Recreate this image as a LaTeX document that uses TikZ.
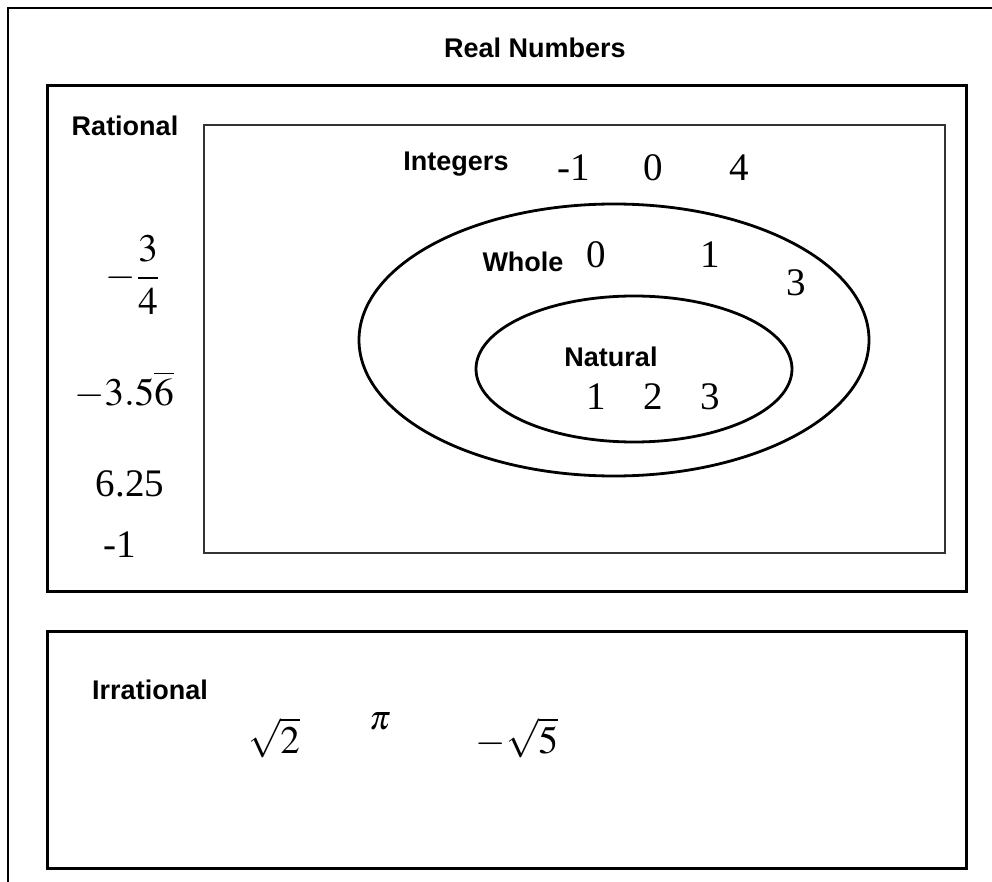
\documentclass[tikz,border=0pt]{standalone}
\usepackage{amsmath}
\usepackage{mathptmx}
\usepackage{fontspec}
\setmainfont{Liberation Serif}
\setsansfont{Liberation Sans}
\usetikzlibrary{shapes.geometric}
\tikzset{
  setbox/.style={draw=black,line width=1.5pt},
  intbox/.style={draw=black!80,line width=1pt},
  setring/.style={ellipse,draw=black,line width=1.4pt,inner sep=0pt},
  setlabel/.style={font=\sffamily\bfseries\fontsize{13.5}{15}\selectfont,inner sep=1pt},
  num/.style={font=\fontsize{19.5}{22}\selectfont,inner sep=1pt}
}
\begin{document}
\begin{tikzpicture}[x=0.5pt,y=-0.5pt]
\useasboundingbox (0,0) rectangle (992,882);
\clip (0,0) rectangle (992,882);
% sets
\draw[line width=1.2pt] (8,8) rectangle (1010,900);
\draw[setbox] (47,86) rectangle (966,592);
\draw[intbox] (204,125) rectangle (945,553);
\draw[setbox] (47,631) rectangle (966,868);
\node[setring,minimum width=255pt,minimum height=136pt] (whole) at (614,340) {};
\node[setring,minimum width=158pt,minimum height=73pt] (natural) at (634,369) {};
% labels
\node[setlabel] (real) at (535,48) {Real Numbers};
\node[setlabel] (rational) at (125,126) {Rational};
\node[setlabel] (integers) at (456,164) {Integers};
\node[setlabel] (wholelbl) at (523,262) {Whole};
\node[setlabel] (natlbl) at (611,357) {Natural};
\node[setlabel] (irrational) at (150,690) {Irrational};
% members
\node[num] (im1) at (574,168) {-1};
\node[num] (i0) at (653,168) {0};
\node[num] (i4) at (739,168) {4};
\node[num] (w0) at (596,255) {0};
\node[num] (w1) at (710,255) {1};
\node[num] (w3) at (796,283) {3};
\node[num] (n1) at (596,397) {1};
\node[num] (n2) at (653,397) {2};
\node[num] (n3) at (710,397) {3};
\node[num] (frac) at (133,275) {$-\dfrac{3}{4}$};
\node[num] (rep) at (124,390) {$-3.5\overline{6}$};
\node[num] (dec) at (130,484) {6.25};
\node[num] (rm1) at (120,545) {-1};
\node[num] (sq2) at (274,738) {$\sqrt{2}$};
\node[num,font=\fontsize{17}{20}\selectfont] (pi) at (380,721) {$\pi$};
\node[num] (sq5) at (517,738) {$-\sqrt{5}$};
\end{tikzpicture}
\end{document}
